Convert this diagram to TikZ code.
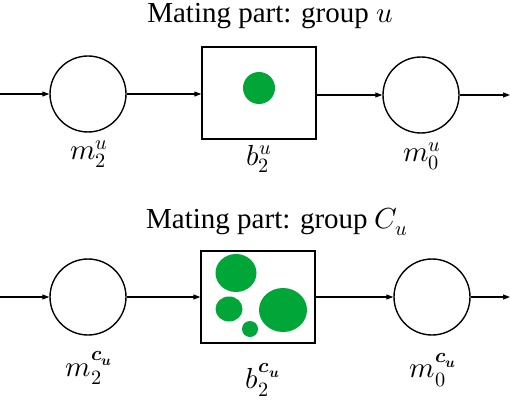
\documentclass[tikz,border=0pt]{standalone}
\usepackage{fontspec}
\usepackage{unicode-math}
\setmainfont{Liberation Serif}
\usepackage{tikz}
\usetikzlibrary{positioning,arrows.meta,shapes,calc}
\usepackage{xcolor}
\definecolor{DotGreen}{RGB}{0,166,56}

\begin{document}
\begin{tikzpicture}[x=1pt, y=-1pt,
    place/.style={circle, draw=black, line width=1.4pt, minimum size=76pt, inner sep=0pt},
    box/.style={rectangle, draw=black, line width=1.4pt,
                minimum width=114pt, minimum height=92pt, inner sep=0pt},
    arrow/.style={-{Triangle[length=7pt, width=5pt]}, line width=1.1pt},
    title/.style={font=\fontsize{29}{32}\selectfont},
    label/.style={font=\fontsize{29}{32}\selectfont}
]
    \useasboundingbox (0,0) rectangle (510,406);

    % group u
    \node[title] (titleu) at (270,16) {Mating part: group $u$};
    \coordinate (inu) at (0,94);
    \node[place] (m2u) at (88,94) {};
    \node[box] (b2u) at (259,93) {};
    \node[place] (m0u) at (421,95) {};
    \coordinate (outu) at (510,95);
    \fill[DotGreen] (259,88) circle (16);

    \node[label] (lm2u) at (89,154) {$m_2^u$};
    \node[label] (lb2u) at (259,159) {$b_2^u$};
    \node[label] (lm0u) at (422,156) {$m_0^u$};

    \draw[arrow] (inu) -- (m2u.west);
    \draw[arrow] (m2u.east) -- (m2u.east -| b2u.west);
    \draw[arrow] (m0u.west -| b2u.east) -- (m0u.west);
    \draw[arrow] (m0u.east) -- (outu);

    % group C_u
    \node[title] (titlec) at (277,222) {Mating part: group $C_u$};
    \coordinate (inc) at (0,297);
    \node[place] (m2c) at (88,297) {};
    \node[box] (b2c) at (258,297) {};
    \node[place] (m0c) at (432,297) {};
    \coordinate (outc) at (510,297);
    \fill[DotGreen] (236,273) ellipse (20.5 and 19);
    \fill[DotGreen] (229,309) ellipse (13.5 and 12.5);
    \fill[DotGreen] (250,329) circle (8);
    \fill[DotGreen] (283,310) ellipse (24 and 22);

    \node[label] (lm2c) at (89,368) {$m_2^{\symbfit{c}_{\symbfit{u}}}$};
    \node[label] (lb2c) at (263,380) {$b_2^{\symbfit{c}_{\symbfit{u}}}$};
    \node[label] (lm0c) at (433,370) {$m_0^{\symbfit{c}_{\symbfit{u}}}$};

    \draw[arrow] (inc) -- (m2c.west);
    \draw[arrow] (m2c.east) -- (b2c.west);
    \draw[arrow] (b2c.east) -- (m0c.west);
    \draw[arrow] (m0c.east) -- (outc);
\end{tikzpicture}
\end{document}
